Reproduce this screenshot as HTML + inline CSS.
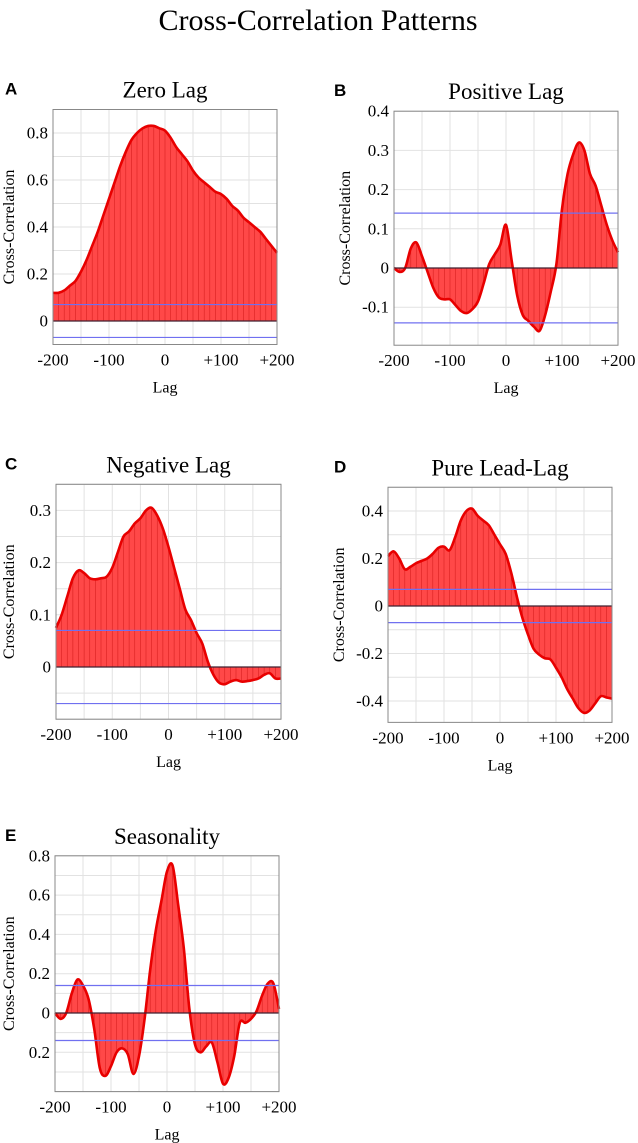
<!DOCTYPE html>
<html><head><meta charset="utf-8">
<style>
body{margin:0;background:#fff;width:638px;height:1143px;overflow:hidden;}
svg{display:block;}
svg text{font-family:"Liberation Serif","Times New Roman",serif;}
svg text.lt{font-family:"Liberation Sans",Arial,sans-serif;font-weight:bold;font-size:17px;}
</style></head>
<body>
<svg id="fig" width="638" height="1143" viewBox="0 0 638 1143">
<text x="318" y="30" text-anchor="middle" font-size="30">Cross-Correlation Patterns</text>
</svg>
<script>
const lags = [-200,-190,-180,-170,-160,-150,-140,-130,-120,-110,-100,-90,-80,-70,-60,-50,-40,-30,-20,-10,0,10,20,30,40,50,60,70,80,90,100,110,120,130,140,150,160,170,180,190,200];
const valuesA = [.12,.12,.13,.15,.17,.21,.26,.32,.38,.45,.52,.59,.66,.72,.77,.80,.82,.83,.83,.82,.81,.78,.74,.71,.68,.64,.61,.59,.57,.55,.54,.52,.49,.47,.44,.42,.40,.38,.35,.32,.29];
const valuesB = [0,-.01,0,.05,.065,.03,-.01,-.05,-.075,-.08,-.08,-.095,-.11,-.115,-.105,-.085,-.04,.01,.035,.06,.11,.02,-.07,-.12,-.135,-.15,-.16,-.12,-.06,.01,.15,.24,.29,.32,.30,.24,.21,.16,.11,.07,.04];
const valuesC = [.075,.10,.135,.17,.185,.18,.17,.168,.17,.173,.19,.22,.25,.26,.275,.285,.30,.305,.29,.265,.23,.19,.15,.11,.09,.065,.045,.01,-.015,-.03,-.033,-.028,-.025,-.028,-.027,-.025,-.022,-.015,-.012,-.022,-.022];
const valuesD = [.21,.23,.2,.155,.165,.18,.19,.2,.22,.245,.25,.235,.29,.36,.40,.41,.38,.36,.34,.30,.26,.22,.14,.04,-.05,-.12,-.18,-.205,-.22,-.225,-.26,-.30,-.35,-.39,-.43,-.45,-.44,-.41,-.38,-.385,-.39];
const valuesE = [0,-.03,0,.1,.17,.14,.07,-.08,-.28,-.32,-.27,-.2,-.18,-.21,-.31,-.22,-.03,.22,.42,.57,.72,.75,.55,.33,.02,-.16,-.2,-.17,-.15,-.25,-.36,-.33,-.22,-.05,-.05,-.03,.01,.09,.15,.15,.02];
const xTicks = [-200,-100,0,100,200];
const xTickLabels = ["-200","-100","0","+100","+200"];
const yTicksA = [0,0.2,0.4,0.6,0.8];
const yTickLabelsA = ["0","0.2","0.4","0.6","0.8"];
const yTicksB = [-0.1,0,0.1,0.2,0.3,0.4];
const yTickLabelsB = ["-0.1","0","0.1","0.2","0.3","0.4"];
const yTicksC = [0,0.1,0.2,0.3];
const yTickLabelsC = ["0","0.1","0.2","0.3"];
const yTicksD = [-0.4,-0.2,0,0.2,0.4];
const yTickLabelsD = ["-0.4","-0.2","0","0.2","0.4"];
const yTicksE = [-0.2,0,0.2,0.4,0.6,0.8];
const yTickLabelsE = ["0.2","0","0.2","0.4","0.6","0.8"];
const confA = 0.07, confB = 0.14, confC = 0.07, confD = 0.07, confE = 0.14;

const NS = "http://www.w3.org/2000/svg";
const svg = document.getElementById('fig');
function mk(tag, attrs, parent){
  const e = document.createElementNS(NS, tag);
  for (const k in attrs) e.setAttribute(k, attrs[k]);
  (parent||svg).appendChild(e);
  return e;
}
function smoothPath(pts){
  let d = "M"+pts[0][0]+","+pts[0][1];
  for (let i=0;i<pts.length-1;i++){
    const p0=pts[Math.max(0,i-1)], p1=pts[i], p2=pts[i+1], p3=pts[Math.min(pts.length-1,i+2)];
    const c1x=p1[0]+(p2[0]-p0[0])/6, c1y=p1[1]+(p2[1]-p0[1])/6;
    const c2x=p2[0]-(p3[0]-p1[0])/6, c2y=p2[1]-(p3[1]-p1[1])/6;
    d += " C"+c1x+","+c1y+" "+c2x+","+c2y+" "+p2[0]+","+p2[1];
  }
  return d;
}
function panel(cfg){
  const g = mk('g', {});
  
  
  const X = v => cfg.x0 + (v+200)/400*(cfg.x1-cfg.x0);
  const Y = v => cfg.yz - v*cfg.ppu;
  const top = Y(cfg.ymax), bot = Y(cfg.ymin);
  for (let l=-200;l<=200;l+=50){
    const ln = mk('line',{x1:X(l),x2:X(l),y1:top,y2:bot,stroke:'#e2e2e2','stroke-width':1},g);
    
    
  }
  for (let v=Math.ceil(cfg.ymin/cfg.gstep-1e-6)*cfg.gstep; v<=cfg.ymax+1e-6; v+=cfg.gstep){
    const ln = mk('line',{x1:cfg.x0,x2:cfg.x1,y1:Y(v),y2:Y(v),stroke:'#e2e2e2','stroke-width':1},g);
    
    
  }
  const pts = cfg.vals.map((v,i)=>[X(lags[i]), Y(v)]);
  const curve = smoothPath(pts);
  const area = mk('path',{d: curve+" L"+X(200)+","+Y(0)+" L"+X(-200)+","+Y(0)+" Z", fill:'#ff4848'},g);
  
  
  cfg.vals.forEach((v,i)=>{
    const s = mk('line',{x1:X(lags[i]),x2:X(lags[i]),y1:Y(0),y2:Y(v),stroke:'#d82020','stroke-width':0.6},g);
    
    
  });
  const line = mk('path',{d:curve,fill:'none',stroke:'#e80000','stroke-width':2.6,'stroke-linejoin':'round'},g);
  
  
  const z = mk('line',{x1:cfg.x0,x2:cfg.x1,y1:Y(0),y2:Y(0),stroke:'#402030','stroke-width':1.2},g);
  
  
  [cfg.conf,-cfg.conf].forEach(c=>{
    const b = mk('line',{x1:cfg.x0,x2:cfg.x1,y1:Y(c),y2:Y(c),stroke:'#7070f0','stroke-width':1.2},g);
    
    
  });
  const box = mk('rect',{x:cfg.x0,y:top,width:cfg.x1-cfg.x0,height:bot-top,fill:'none',stroke:'#888','stroke-width':1},g);
  
  
  xTicks.forEach((t,i)=>{
    const tx = mk('text',{x:X(t),y:bot+21,'text-anchor':'middle','font-size':17},g);
    tx.textContent = xTickLabels[i];
    
    
  });
  cfg.yt.forEach((t,i)=>{
    const ty = mk('text',{x:cfg.x0-5,y:Y(t)+5.5,'text-anchor':'end','font-size':17},g);
    ty.textContent = cfg.ytl[i];
    
    
  });
  const xl = mk('text',{x:(cfg.x0+cfg.x1)/2,y:bot+48,'text-anchor':'middle','font-size':16},g);
  xl.textContent='Lag';
  
  
  const yc = (top+bot)/2;
  const yl = mk('text',{x:cfg.ylx,y:yc,'text-anchor':'middle','font-size':16,transform:'rotate(-90 '+cfg.ylx+' '+yc+')'},g);
  yl.textContent='Cross-Correlation';
  
  
  const tt = mk('text',{x:(cfg.x0+cfg.x1)/2,y:top-12,'text-anchor':'middle','font-size':23},g);
  tt.textContent=cfg.title;
  
  
  const lt = mk('text',{x:cfg.lx,y:top-15,'class':'lt'},g);
  lt.textContent=cfg.id;
  
  
}
panel({id:'A',title:'Zero Lag',x0:53,x1:277,yz:321,ppu:235,ymin:-0.1,ymax:0.9,gstep:0.1,vals:valuesA,conf:confA,yt:yTicksA,ytl:yTickLabelsA,ylx:14,lx:5});
panel({id:'B',title:'Positive Lag',x0:394,x1:618,yz:268,ppu:392,ymin:-0.197,ymax:0.4,gstep:0.1,vals:valuesB,conf:confB,yt:yTicksB,ytl:yTickLabelsB,ylx:350,lx:334});
panel({id:'C',title:'Negative Lag',x0:56,x1:281,yz:667,ppu:522,ymin:-0.1,ymax:0.35,gstep:0.05,vals:valuesC,conf:confC,yt:yTicksC,ytl:yTickLabelsC,ylx:14,lx:5});
panel({id:'D',title:'Pure Lead-Lag',x0:388,x1:612,yz:606,ppu:237.5,ymin:-0.49,ymax:0.5,gstep:0.1,vals:valuesD,conf:confD,yt:yTicksD,ytl:yTickLabelsD,ylx:344,lx:334});
panel({id:'E',title:'Seasonality',x0:55,x1:279,yz:1013,ppu:196.5,ymin:-0.4,ymax:0.8,gstep:0.1,vals:valuesE,conf:confE,yt:yTicksE,ytl:yTickLabelsE,ylx:14,lx:5});
</script>
</body></html>
